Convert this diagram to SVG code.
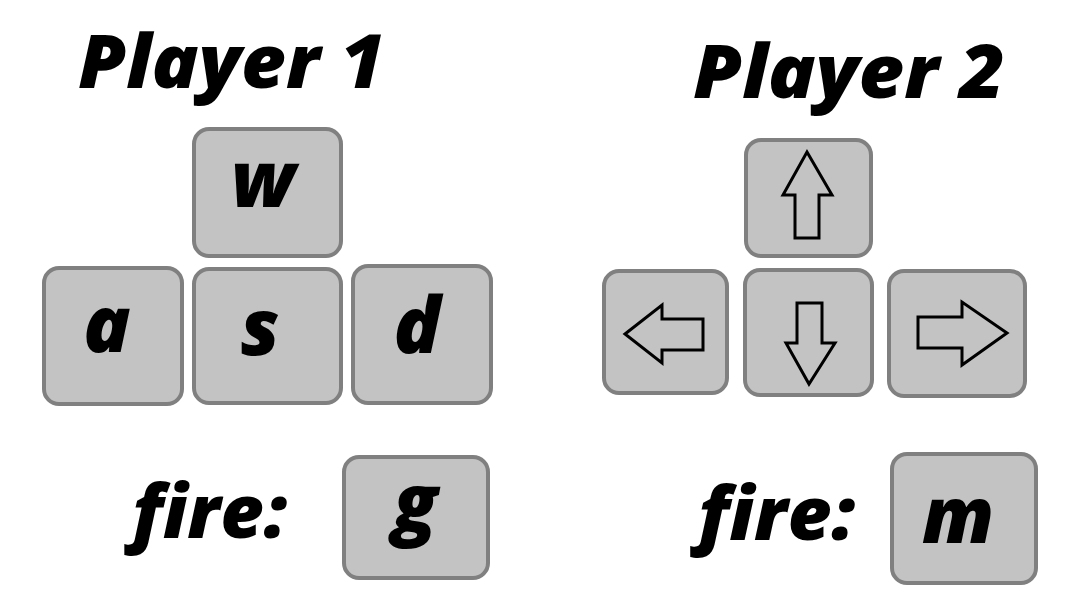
<svg xmlns="http://www.w3.org/2000/svg" width="1080" height="609" viewBox="0 0 1080 609">
<style>
.key{fill:#c3c3c3;stroke:#808080;stroke-width:4}
.t{font-family:"Open Sans","DejaVu Sans",sans-serif;font-weight:800;font-style:italic;fill:#000}
.k{font-size:78px;text-anchor:middle}
.h{font-size:74px}
.arr{fill:none;stroke:#000;stroke-width:3;stroke-linejoin:miter}
</style>
<rect width="1080" height="609" fill="#fff"/>
<text class="t h" x="78" y="88" textLength="307" lengthAdjust="spacingAndGlyphs">Player 1</text>
<text class="t h" x="693" y="98" textLength="312" lengthAdjust="spacingAndGlyphs">Player 2</text>
<g id="key-w"><rect class="key" x="194" y="129" width="147" height="127" rx="15"/><text class="t k" x="263" y="207">w</text></g>
<g id="key-a"><rect class="key" x="44" y="268" width="138" height="136" rx="15"/><text class="t k" x="107" y="352">a</text></g>
<g id="key-s"><rect class="key" x="194" y="269" width="147" height="134" rx="15"/><text class="t k" x="260" y="355">s</text></g>
<g id="key-d"><rect class="key" x="353" y="266" width="138" height="137" rx="15"/><text class="t k" x="417" y="353">d</text></g>
<g id="fire1"><text class="t h" x="132" y="538" textLength="155" lengthAdjust="spacingAndGlyphs">fire:</text></g>
<g id="key-g"><rect class="key" x="344" y="457" width="144" height="121" rx="15"/><text class="t k" x="415" y="530">g</text></g>
<g id="key-up"><rect class="key" x="746" y="140" width="125" height="116" rx="15"/><polygon class="arr" points="807,152 832,195 819,195 819,238 795,238 795,195 783,195"/></g>
<g id="key-left"><rect class="key" x="604" y="271" width="123" height="122" rx="15"/><polygon class="arr" points="625,334 662,305 662,319 703,319 703,350 662,350 662,363"/></g>
<g id="key-down"><rect class="key" x="745" y="270" width="127" height="125" rx="15"/><polygon class="arr" points="797,303 822,303 822,343 835,343 809,384 786,343 797,343"/></g>
<g id="key-right"><rect class="key" x="889" y="271" width="136" height="125" rx="15"/><polygon class="arr" points="918,317 962,317 962,302 1007,333 962,365 962,348 918,348"/></g>
<g id="fire2"><text class="t h" x="698" y="540" textLength="157" lengthAdjust="spacingAndGlyphs">fire:</text></g>
<g id="key-m"><rect class="key" x="892" y="454" width="144" height="129" rx="15"/><text class="t k" x="958" y="543">m</text></g>
</svg>
